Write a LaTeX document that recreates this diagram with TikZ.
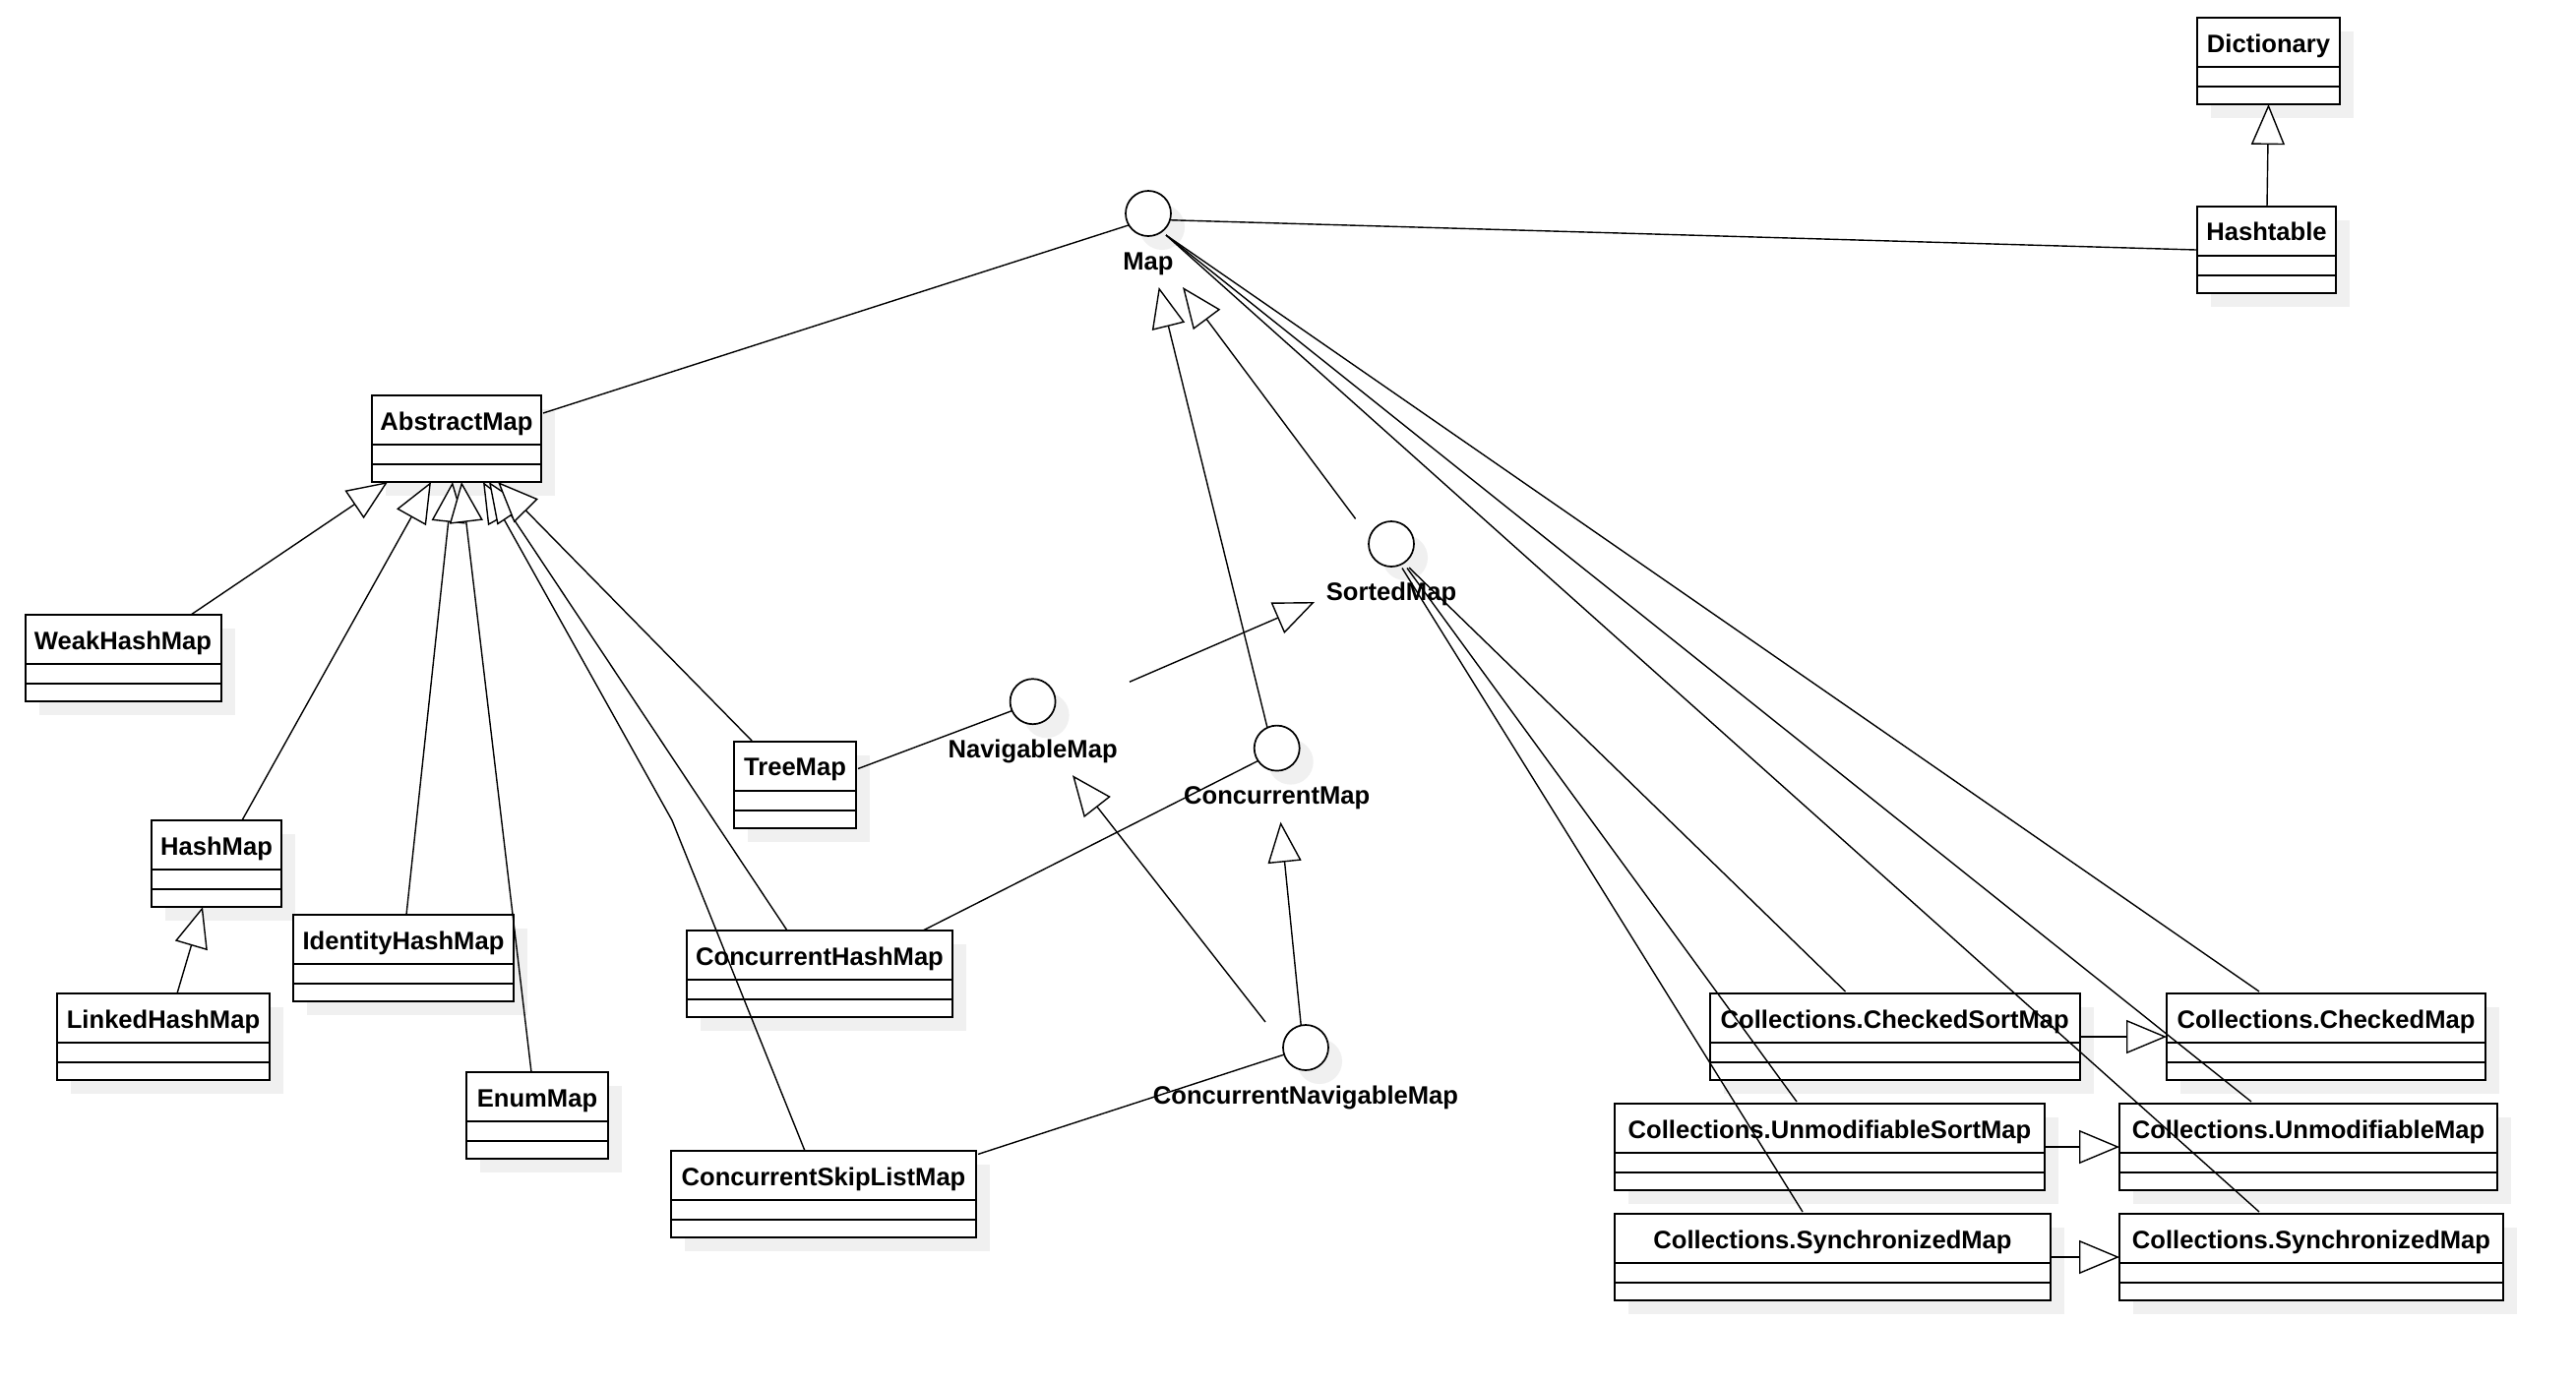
\documentclass[tikz,border=0pt]{standalone}
\usepackage{fontspec}
\setmainfont{Liberation Sans}
\usetikzlibrary{arrows.meta,calc}
\definecolor{shadowc}{RGB}{240,240,240}
\tikzset{
  conn/.style={line width=0.7pt, draw=black},
  gen/.style={conn, -{Triangle[fill=white,length=20.5pt,width=17pt]}},
  classframe/.style={draw=black, fill=white, line width=1pt, rectangle, inner sep=0pt, outer sep=0pt, anchor=north west, minimum height=44pt},
  classname/.style={anchor=base, inner sep=0pt, font=\bfseries\fontsize{12.8}{15}\selectfont},
  iface/.style={circle, draw=black, fill=white, line width=0.85pt, minimum size=23pt, inner sep=0pt, outer sep=0pt},
}
\newcommand\umlclass[5]{%
  \fill[shadowc] (#2+14,#3+14) rectangle (#2+#4+14,#3+102);
  \node[classframe, minimum width=#4*0.5pt] (#1) at (#2,#3) {};
  \draw[line width=1pt] (#2,#3+50) -- (#2+#4,#3+50) (#2,#3+70) -- (#2+#4,#3+70);
  \node[classname] (#1-n) at (#2+#4/2,#3+35) {#5};
}
\newcommand\umliface[4]{%
  \fill[shadowc] (#2+14,#3+14) circle[radius=11.5pt];
  \node[iface] (#1) at (#2,#3) {};
  \node[classname] (#1-n) at (#2,#3+57) {#4};
}
\begin{document}
\begin{tikzpicture}[x=0.5pt,y=-0.5pt]
\fill[white] (0,0) rectangle (2618,1404);
\useasboundingbox (0,0) rectangle (2618,1404);

% classes
\umlclass{dict}{2233}{18}{145}{Dictionary}
\umlclass{ht}{2233}{209.5}{141}{Hashtable}
\umlclass{am}{378}{402}{172}{AbstractMap}
\umlclass{whm}{25.5}{625}{199}{WeakHashMap}
\umlclass{hm}{154}{834}{132}{HashMap}
\umlclass{lhm}{58}{1010}{216}{LinkedHashMap}
\umlclass{ihm}{298}{930}{224}{IdentityHashMap}
\umlclass{em}{474}{1090}{144}{EnumMap}
\umlclass{tm}{746}{753.5}{124}{TreeMap}
\umlclass{chm}{698}{946}{270}{ConcurrentHashMap}
\umlclass{cslm}{682}{1170}{310}{ConcurrentSkipListMap}
\umlclass{cksm}{1737.5}{1010}{376.5}{Collections.CheckedSortMap}
\umlclass{ckm}{2202}{1010}{324}{Collections.CheckedMap}
\umlclass{ums}{1641}{1122}{437}{Collections.UnmodifiableSortMap}
\umlclass{um}{2154}{1122}{384}{Collections.UnmodifiableMap}
\umlclass{ssm}{1641}{1234}{443}{Collections.SynchronizedMap}
\umlclass{sym}{2154}{1234}{390}{Collections.SynchronizedMap}

% interfaces
\umliface{map}{1167}{217}{Map}
\umliface{sm}{1414}{553}{SortedMap}
\umliface{nm}{1049.6}{713.2}{NavigableMap}
\umliface{cm}{1297.7}{760.6}{ConcurrentMap}
\umliface{cnm}{1327}{1065}{ConcurrentNavigableMap}

\coordinate (bend) at (683,834);

% connectors
\draw[conn] (map.211) -- ($(am.north east)+(2,18)$);
\draw[conn] (map.343) -- ($(ht.north west)+(-1,44.5)$);
\draw[gen] ($(ht.north west)+(71,0)$) -- ($(dict.south west)+(72.5,0)$);

\draw[gen] ($(whm.north west)+(168.5,0)$) -- ($(am.south west)+(16,0)$);
\draw[gen] ($(hm.north west)+(92,0)$) -- ($(am.south west)+(60,0)$);
\draw[gen] ($(ihm.north west)+(115,0)$) -- ($(am.south west)+(82,0)$);
\draw[gen] ($(em.north west)+(66,0)$) -- ($(am.south west)+(91,0)$);
\draw[gen] ($(cslm.north west)+(136,0)$) -- (bend) -- ($(am.south west)+(113,0)$);
\draw[gen] ($(chm.north west)+(102,0)$) -- ($(am.south west)+(119,0)$);
\draw[gen] ($(tm.north west)+(18.5,0)$) -- ($(am.south west)+(128,0)$);
\draw[gen] ($(lhm.north west)+(122,0)$) -- ($(hm.south west)+(52,0)$);

\draw[conn] ($(tm.north east)+(2,28)$) -- (nm.204);
\draw[gen] ($(nm)+(98.4,-20)$) -- ($(sm)+(-78,59)$);
\draw[gen] ($(sm)+(-36.4,-25.6)$) -- ($(map)+(35,75)$);
\draw[gen] (cm.115) -- ($(map)+(10.7,75)$);
\draw[conn] ($(chm.north west)+(240,0)$) -- (cm.214);
\draw[conn] ($(cslm.north east)+(2,3.4)$) -- (cnm.198);
\draw[gen] (cnm.102) -- ($(cm)+(3.8,75)$);
\draw[gen] ($(cnm)+(-41,-26)$) -- ($(nm)+(40.4,75)$);

\draw[conn] ($(map)+(18,22)$) -- ($(ckm.north west)+(94,-2)$);
\draw[conn] ($(map)+(18,22)$) -- ($(um.north west)+(134,-2)$);
\draw[conn] ($(map)+(18,22)$) -- ($(sym.north west)+(142,-2)$);
\draw[conn] ($(sm)+(18,24)$) -- ($(cksm.north west)+(138,-2)$);
\draw[conn] ($(sm)+(16,24.5)$) -- ($(ums.north west)+(185,-2)$);
\draw[conn] ($(sm)+(11,24.5)$) -- ($(ssm.north west)+(191,-2)$);

\draw[gen] (cksm.east) -- (ckm.west);
\draw[gen] (ums.east) -- (um.west);
\draw[gen] (ssm.east) -- (sym.west);
\end{tikzpicture}
\end{document}
